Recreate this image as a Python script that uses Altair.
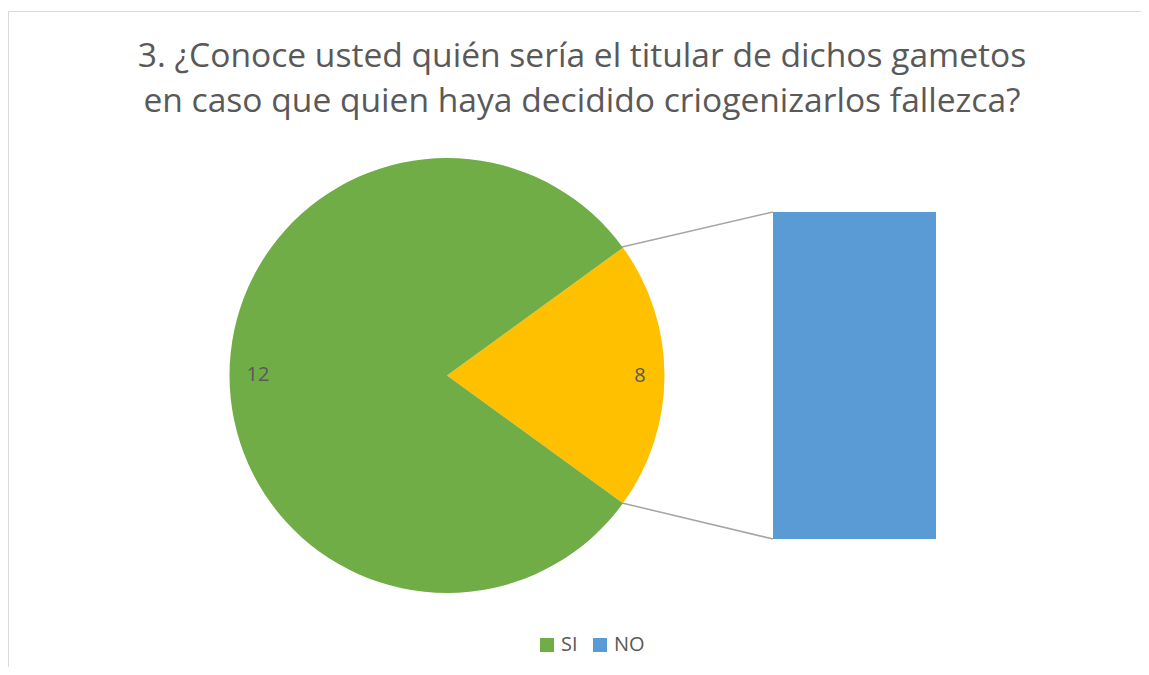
import altair as alt
import pandas as pd

# ---- data ----
title_lines = [
    "3. ¿Conoce usted quién sería el titular de dichos gametos",
    "en caso que quien haya decidido criogenizarlos fallezca?",
]
pie_categories = ["Otro", "SI"]      # "Otro" = slice that is broken out into the bar
pie_labels = [8, 12]                 # data labels shown on the slices
pie_share = [20, 80]                 # share of the circle each slice occupies (%)
pie_order = [0, 1]
bar_categories = ["NO"]
bar_values = [8]
legend_items = ["SI", "NO"]

GREEN = "#70AD47"
YELLOW = "#FFC000"
BLUE = "#5B9BD5"
TEXT = "#595959"
FONT = "Open Sans"

pie_df = pd.DataFrame({"cat": pie_categories, "label": pie_labels,
                       "share": pie_share, "ord": pie_order})
bar_df = pd.DataFrame({"cat": bar_categories, "n": bar_values})

color_scale = alt.Scale(domain=["SI", "NO", "Otro"], range=[GREEN, BLUE, YELLOW])

# layout (chart pixels)
CX, CY, R = 439, 367.5, 217.5
start = 0.9425  # yellow slice centred on the right-hand side
theta_scale = alt.Scale(range=[start, start + 2 * 3.141592653589793])

base_pie = alt.Chart(pie_df)

arcs = base_pie.mark_arc(outerRadius=R, stroke=None).encode(
    theta=alt.Theta("share:Q", stack=True, scale=theta_scale),
    order=alt.Order("ord:Q"),
    x=alt.value(CX), y=alt.value(CY),
    color=alt.Color("cat:N", scale=color_scale,
                    legend=alt.Legend(values=legend_items, title=None, orient="none",
                                      direction="horizontal", legendX=529, legendY=627,
                                      symbolType="square", symbolSize=196,
                                      symbolStrokeWidth=0, labelFont=FONT,
                                      labelFontSize=20, labelColor=TEXT,
                                      labelOffset=4, columnPadding=12)),
)

labels = base_pie.mark_text(radius=191, font=FONT, fontSize=20, color=TEXT).encode(
    theta=alt.Theta("share:Q", stack=True, scale=theta_scale),
    order=alt.Order("ord:Q"),
    x=alt.value(CX + 2), y=alt.value(CY),
    text=alt.Text("label:Q"),
)

bar = alt.Chart(bar_df).mark_bar().encode(
    x=alt.value(765), x2=alt.value(928),
    y=alt.Y("n:Q", scale=alt.Scale(domain=[0, 8], range=[531, 204]), axis=None),
    y2=alt.datum(0),
    color=alt.Color("cat:N", scale=color_scale),
)

conn_top = alt.Chart(bar_df).mark_rule(color="#A5A5A5", strokeWidth=1.5).encode(
    x=alt.value(614), y=alt.value(239), x2=alt.value(765), y2=alt.value(204))
conn_bot = alt.Chart(bar_df).mark_rule(color="#A5A5A5", strokeWidth=1.5).encode(
    x=alt.value(614), y=alt.value(495), x2=alt.value(765), y2=alt.value(531))

title1 = alt.Chart(pd.DataFrame({"t": [title_lines[0]]})).mark_text(
    font=FONT, fontSize=33.6, color=TEXT, align="center", baseline="alphabetic").encode(
    x=alt.value(574), y=alt.value(59), text="t:N")
title2 = alt.Chart(pd.DataFrame({"t": [title_lines[1]]})).mark_text(
    font=FONT, fontSize=33.6, color=TEXT, align="center", baseline="alphabetic").encode(
    x=alt.value(574), y=alt.value(104), text="t:N")

border = alt.Chart(bar_df).mark_rect(fillOpacity=0, stroke="#D9D9D9", strokeWidth=1).encode(
    x=alt.value(0.5), y=alt.value(3.5), x2=alt.value(1200), y2=alt.value(720))

chart = alt.layer(border, conn_top, conn_bot, arcs, labels, bar, title1, title2).resolve_scale(
    y="independent").properties(
    width=1133, height=659, padding=0, autosize=alt.AutoSizeParams(type="none"),
    background="white",
).configure_view(stroke=None)

chart.save("out.html", embed_options={"renderer": "svg", "actions": False})
